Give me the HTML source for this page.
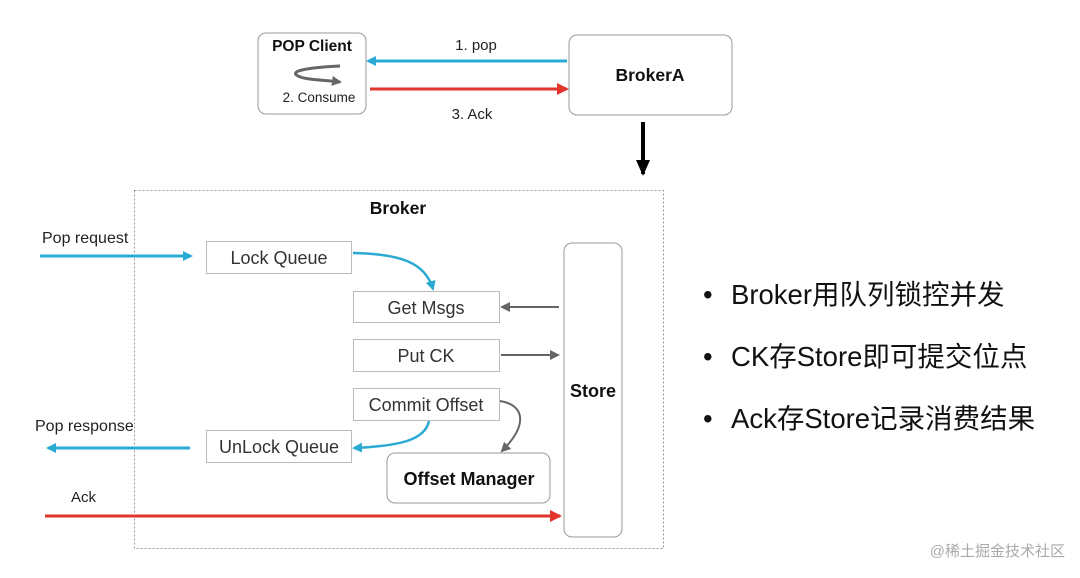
<!DOCTYPE html>
<html><head><meta charset="utf-8"><style>
html,body{margin:0;padding:0;background:#fff;}
svg{display:block;}
text{font-family:"Liberation Sans","Noto Sans CJK SC",sans-serif;}
</style></head><body>
<svg width="1080" height="578" viewBox="0 0 1080 578" xmlns="http://www.w3.org/2000/svg">
<defs>
<marker id="ab" markerWidth="10" markerHeight="10" refX="8" refY="5" orient="auto" markerUnits="userSpaceOnUse"><path d="M0,0 L10,5 L0,10 z" fill="#2aa9d2"/></marker>
<marker id="ar" markerWidth="12" markerHeight="12" refX="10" refY="6" orient="auto" markerUnits="userSpaceOnUse"><path d="M0,0 L12,6 L0,12 z" fill="#e2352b"/></marker>
<marker id="ag" markerWidth="10" markerHeight="10" refX="8" refY="5" orient="auto" markerUnits="userSpaceOnUse"><path d="M0,0 L10,5 L0,10 z" fill="#666"/></marker>
<marker id="ak" markerWidth="16" markerHeight="14" refX="14" refY="7" orient="auto" markerUnits="userSpaceOnUse"><path d="M0,0 L16,7 L0,14 z" fill="#000"/></marker>
</defs>
<rect x="258" y="33" width="108" height="81" rx="8" fill="#fff" stroke="#999"/>
<text x="312" y="51" font-size="15.5" font-weight="bold" text-anchor="middle" fill="#111">POP Client</text>
<path d="M340,66 C300,68 290,72 298,76 C305,80 325,80 340,82" fill="none" stroke="#666" stroke-width="3" marker-end="url(#ag)"/>
<text x="319" y="102" font-size="13.5" text-anchor="middle" fill="#222">2. Consume</text>
<rect x="569" y="35" width="163" height="80" rx="8" fill="#fff" stroke="#999"/>
<text x="650" y="81" font-size="17.5" font-weight="bold" text-anchor="middle" fill="#111">BrokerA</text>
<line x1="567" y1="61" x2="368" y2="61" stroke="#2aa9d2" stroke-width="3" marker-end="url(#ab)"/>
<text x="476" y="50" font-size="15" text-anchor="middle" fill="#222">1. pop</text>
<line x1="370" y1="89" x2="567" y2="89" stroke="#e2352b" stroke-width="3" marker-end="url(#ar)"/>
<text x="472" y="119" font-size="15" text-anchor="middle" fill="#222">3. Ack</text>
<line x1="643" y1="122" x2="643" y2="174" stroke="#000" stroke-width="4" marker-end="url(#ak)"/>
<rect x="134.5" y="190.5" width="529" height="358" fill="none" stroke="#999" stroke-dasharray="2,2"/>
<text x="398" y="214" font-size="17.5" font-weight="bold" text-anchor="middle" fill="#111">Broker</text>
<rect x="206.5" y="241.5" width="145" height="32" fill="#fff" stroke="#bbb"/>
<text x="279" y="264" font-size="18" text-anchor="middle" fill="#333">Lock Queue</text>
<rect x="353.5" y="291.5" width="146" height="31" fill="#fff" stroke="#bbb"/>
<text x="426" y="314" font-size="18" text-anchor="middle" fill="#333">Get Msgs</text>
<rect x="353.5" y="339.5" width="146" height="32" fill="#fff" stroke="#bbb"/>
<text x="426" y="362" font-size="18" text-anchor="middle" fill="#333">Put CK</text>
<rect x="353.5" y="388.5" width="146" height="32" fill="#fff" stroke="#bbb"/>
<text x="426" y="411" font-size="18" text-anchor="middle" fill="#333">Commit Offset</text>
<rect x="206.5" y="430.5" width="145" height="32" fill="#fff" stroke="#bbb"/>
<text x="279" y="453" font-size="18" text-anchor="middle" fill="#333">UnLock Queue</text>
<rect x="387" y="453" width="163" height="50" rx="8" fill="#fff" stroke="#999"/>
<text x="469" y="485" font-size="18" font-weight="bold" text-anchor="middle" fill="#111">Offset Manager</text>
<rect x="564" y="243" width="58" height="294" rx="8" fill="#fff" stroke="#999"/>
<text x="593" y="397" font-size="18" font-weight="bold" text-anchor="middle" fill="#111">Store</text>
<line x1="40" y1="256" x2="191" y2="256" stroke="#2aa9d2" stroke-width="3" marker-end="url(#ab)"/>
<text x="42" y="243" font-size="16" fill="#222">Pop request</text>
<path d="M353,253 C400,254 425,262 433,289" fill="none" stroke="#2aa9d2" stroke-width="2.5" marker-end="url(#ab)"/>
<line x1="559" y1="307" x2="502" y2="307" stroke="#666" stroke-width="2" marker-end="url(#ag)"/>
<line x1="501" y1="355" x2="558" y2="355" stroke="#666" stroke-width="2" marker-end="url(#ag)"/>
<path d="M500,401 C525,405 528,425 502,451" fill="none" stroke="#666" stroke-width="2" marker-end="url(#ag)"/>
<path d="M429,421 C425,440 400,446 354,448" fill="none" stroke="#2aa9d2" stroke-width="2.5" marker-end="url(#ab)"/>
<line x1="190" y1="448" x2="48" y2="448" stroke="#2aa9d2" stroke-width="3" marker-end="url(#ab)"/>
<text x="35" y="431" font-size="16" fill="#222">Pop response</text>
<line x1="45" y1="516" x2="560" y2="516" stroke="#e2352b" stroke-width="3" marker-end="url(#ar)"/>
<text x="71" y="502" font-size="15" fill="#222">Ack</text>
<g font-size="27.5" fill="#111">
<text x="703" y="304">•</text><text x="731" y="304">Broker用队列锁控并发</text>
<text x="703" y="366">•</text><text x="731" y="366">CK存Store即可提交位点</text>
<text x="703" y="428">•</text><text x="731" y="428">Ack存Store记录消费结果</text>
</g>
<text x="1065" y="556" font-size="15" text-anchor="end" fill="#aaa">@稀土掘金技术社区</text>
</svg>
</body></html>
